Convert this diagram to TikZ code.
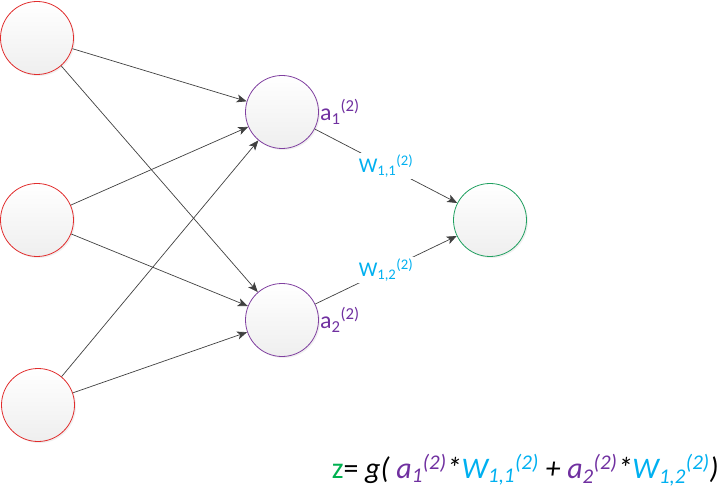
\documentclass[tikz,border=0pt]{standalone}
\usepackage{fontspec}
\setmainfont{Carlito}
\usetikzlibrary{arrows.meta}
\usetikzlibrary{shadows}
\definecolor{linegray}{RGB}{64,64,64}
\definecolor{inred}{RGB}{225,45,45}
\definecolor{hidpurple}{RGB}{128,64,160}
\definecolor{outgreen}{RGB}{32,160,96}
\definecolor{apurple}{RGB}{112,48,160}
\definecolor{wcyan}{RGB}{0,176,240}
\definecolor{zgreen}{RGB}{0,176,80}
\tikzset{
	neuron/.style={circle, minimum size=73bp, inner sep=0pt, line width=0.8bp,
		top color=white, bottom color=gray!13,
		drop shadow={shadow xshift=1.5bp, shadow yshift=-1.5bp, opacity=.12}},
	link/.style={draw=linegray, line width=0.7bp,
		-{Stealth[length=10bp, width=8bp, inset=2.5bp]}},
	weight_label/.style={fill=white, inner sep=1pt, text=wcyan, font=\fontsize{21}{25}\selectfont},
	act_label/.style={text=apurple, font=\fontsize{24}{28}\selectfont, inner sep=1pt}
}
\begin{document}
\begin{tikzpicture}[x=1bp, y=-1bp]
	\useasboundingbox (0, 0) rectangle (723, 487);
	
	\node [neuron, draw=inred] at (37, 38) (input1){};
	\node [neuron, draw=inred] at (37, 220) (input2){};
	\node [neuron, draw=inred] at (38, 405) (input3){};
	
	\node [neuron, draw=hidpurple, label={[act_label]east:a\textsubscript{1}\textsuperscript{(2)}}] at (282, 112) (hidden1){};
	\node [neuron, draw=hidpurple, label={[act_label]east:a\textsubscript{2}\textsuperscript{(2)}}] at (282, 320) (hidden2){};
	
	\node [neuron, draw=outgreen] at (490, 220) (output){};
	
	\foreach \x in {1,...,3}{
		\foreach \y in {1,2}{
			\draw [link] (input\x) -- (hidden\y);
		}
	}
	
	\draw [link] (hidden1) -- node [weight_label] (w1_1) {W\textsubscript{1,1}\textsuperscript{(2)}} (output);
	\draw [link] (hidden2) -- node [weight_label] (w1_2) {W\textsubscript{1,2}\textsuperscript{(2)}} (output);
	
	\node [anchor=base east, font=\fontsize{30}{34}\selectfont, inner sep=0pt] at (719, 478) (formula){\textcolor{zgreen}{z}= \textit{g( \textcolor{apurple}{a\textsubscript{1}\textsuperscript{(2)}}*\textcolor{wcyan}{W\textsubscript{1,1}\textsuperscript{(2)}} + \textcolor{apurple}{a\textsubscript{2}\textsuperscript{(2)}}*\textcolor{wcyan}{W\textsubscript{1,2}\textsuperscript{(2)}})}};
	
\end{tikzpicture}
\end{document}
